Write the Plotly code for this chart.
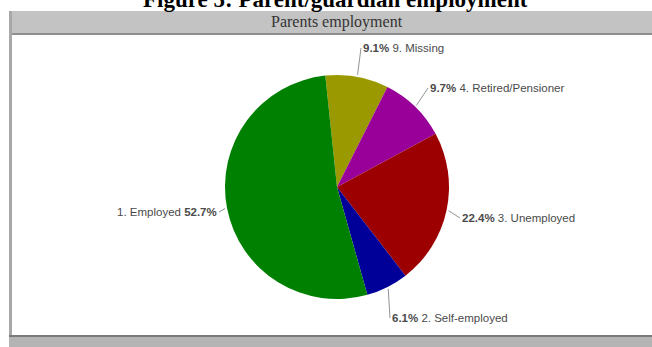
import math
import plotly.graph_objects as go

# ---- data ----
categories = ["9. Missing", "4. Retired/Pensioner", "3. Unemployed", "2. Self-employed", "1. Employed"]
values = [9.1, 9.7, 22.4, 6.1, 52.7]
colors = ["#9a9a00", "#990099", "#9c0000", "#000099", "#008000"]

W, H = 652, 347
# pie placement (pixels)
CX, CY, R = 337, 187, 112
ROT = -6

fig = go.Figure()
fig.add_trace(go.Pie(
    labels=categories, values=values, sort=False, direction="clockwise",
    rotation=ROT, marker=dict(colors=colors, line=dict(width=0)),
    textinfo="none", hoverinfo="label+percent", showlegend=False,
    domain=dict(x=[(CX - R) / W, (CX + R) / W], y=[1 - (CY + R) / H, 1 - (CY - R) / H]),
))

# label tail positions (text anchor points, pixels) and anchors
label_pos = {
    "9. Missing": (361, 48, "left"),
    "4. Retired/Pensioner": (428, 88, "left"),
    "3. Unemployed": (460, 218, "left"),
    "2. Self-employed": (390, 318, "left"),
    "1. Employed": (219, 212, "right"),
}

total = sum(values)
start = ROT
annotations = []
for cat, v in zip(categories, values):
    span = 360 * v / total
    mid = math.radians(start + span / 2)
    start += span
    hx = CX + (R + 2) * math.sin(mid)
    hy = CY - (R + 2) * math.cos(mid)
    tx, ty, anchor = label_pos[cat]
    pct = f"<b>{v:.1f}%</b>"
    text = f"{cat} {pct}" if anchor == "right" else f"{pct} {cat}"
    annotations.append(dict(
        x=hx / W, y=1 - hy / H, xref="paper", yref="paper",
        ax=tx - hx, ay=ty - hy, axref="pixel", ayref="pixel",
        text=text, showarrow=True, arrowhead=0, arrowwidth=0.8, arrowcolor="#777777",
        xanchor=anchor, yanchor="middle",
        font=dict(family="Liberation Sans, Arial", size=11.5, color="#4a4a4a"),
    ))

annotations.append(dict(
    x=335 / W, y=1 - 14 / H, xref="paper", yref="paper", showarrow=False,
    text="<b>Figure 5: Parent/guardian employment</b>", xanchor="center", yanchor="bottom",
    font=dict(family="Liberation Serif, Times New Roman", size=23, color="#000000"),
))
annotations.append(dict(
    x=337 / W, y=1 - 22 / H, xref="paper", yref="paper", showarrow=False,
    text="Parents employment", xanchor="center", yanchor="middle",
    font=dict(family="Liberation Serif, Times New Roman", size=16, color="#333333"),
))

def rect(x0, y0, x1, y1, color):
    return dict(type="rect", xref="paper", yref="paper", layer="below",
                x0=x0 / W, x1=x1 / W, y0=1 - y1 / H, y1=1 - y0 / H,
                fillcolor=color, line=dict(width=0))

shapes = [
    rect(9, 11, W, 33, "#c3c3c3"),
    rect(9, 33, W, 35, "#8e8e8e"),
    rect(9, 11, 12, 337, "#a8a8a8"),
    rect(9, 335, W, 337, "#7a7a7a"),
    rect(9, 337, W, H, "#b4b4b4"),
]

fig.update_layout(
    width=W, height=H, margin=dict(l=0, r=0, t=0, b=0),
    paper_bgcolor="white", plot_bgcolor="white",
    annotations=annotations, shapes=shapes,
)

fig.write_html("out.html")
